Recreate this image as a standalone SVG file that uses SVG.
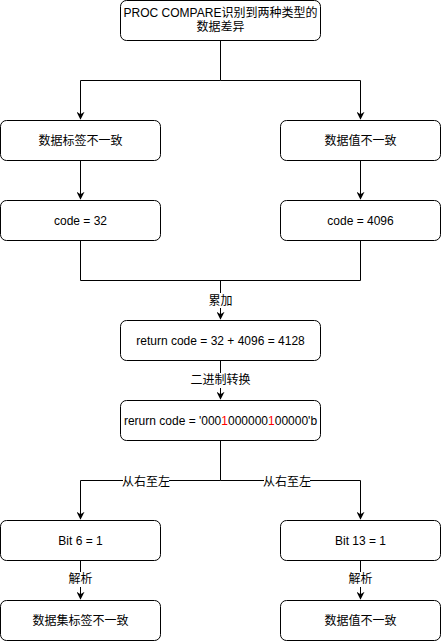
<svg xmlns="http://www.w3.org/2000/svg" width="441" height="641" viewBox="0 0 441 641">
<style>
.n{fill:#fff;stroke:#000;stroke-width:1}
.t{font-family:"Liberation Sans","Noto Sans CJK SC",sans-serif;font-size:12px;fill:#000;text-anchor:middle}
.c{fill:none;stroke:#000;stroke-width:1}
.lb{fill:#fff}
.r{fill:#ff0000}
</style>
<defs>
<marker id="a" viewBox="0 0 10 10" refX="9" refY="5" markerWidth="8" markerHeight="8" orient="auto" markerUnits="userSpaceOnUse"><path d="M0,0 L10,5 L0,10 L3,5 Z" fill="#000"/></marker>
</defs>
<g id="connectors">
<path class="c" d="M220.5,40 V80.5 H80.5 V119" marker-end="url(#a)"/>
<path class="c" d="M220.5,80.5 H360.5 V119" marker-end="url(#a)"/>
<path class="c" d="M80.5,160 V199" marker-end="url(#a)"/>
<path class="c" d="M360.5,160 V199" marker-end="url(#a)"/>
<path class="c" d="M80.5,240 V280.5 H360.5 V240"/>
<path class="c" d="M220.5,280.5 V319" marker-end="url(#a)"/>
<path class="c" d="M220.5,360 V399" marker-end="url(#a)"/>
<path class="c" d="M220.5,440 V480.5 H80.5 V519" marker-end="url(#a)"/>
<path class="c" d="M220.5,480.5 H360.5 V519" marker-end="url(#a)"/>
<path class="c" d="M80.5,560 V599" marker-end="url(#a)"/>
<path class="c" d="M360.5,560 V599" marker-end="url(#a)"/>
<rect class="lb" x="207" y="293" width="27" height="15"/>
<text class="t" x="220.5" y="305">累加</text>
<rect class="lb" x="194" y="373" width="53" height="15"/>
<text class="t" x="220.5" y="384">二进制转换</text>
<rect class="lb" x="123" y="475" width="46" height="14"/>
<text class="t" x="146" y="486">从右至左</text>
<rect class="lb" x="264" y="475" width="46" height="14"/>
<text class="t" x="287" y="486">从右至左</text>
<rect class="lb" x="67" y="572" width="27" height="15"/>
<text class="t" x="80.5" y="583">解析</text>
<rect class="lb" x="347" y="572" width="27" height="15"/>
<text class="t" x="360.5" y="583">解析</text>
</g>
<g id="top"><rect class="n" x="120.5" y="0.5" width="200" height="40" rx="6"/><text class="t" x="220.5" y="17">PROC COMPARE识别到两种类型的</text><text class="t" x="220.5" y="31">数据差异</text></g>
<g id="n1"><rect class="n" x="0.5" y="120.5" width="160" height="40" rx="6"/><text class="t" x="80.5" y="145">数据标签不一致</text></g>
<g id="n2"><rect class="n" x="280.5" y="120.5" width="160" height="40" rx="6"/><text class="t" x="360.5" y="145">数据值不一致</text></g>
<g id="n3"><rect class="n" x="0.5" y="200.5" width="160" height="40" rx="6"/><text class="t" x="80.5" y="225">code = 32</text></g>
<g id="n4"><rect class="n" x="280.5" y="200.5" width="160" height="40" rx="6"/><text class="t" x="360.5" y="225">code = 4096</text></g>
<g id="n5"><rect class="n" x="120.5" y="320.5" width="200" height="40" rx="6"/><text class="t" x="220.5" y="345">return code = 32 + 4096 = 4128</text></g>
<g id="n6"><rect class="n" x="120.5" y="400.5" width="200" height="40" rx="6"/><text class="t" x="220.5" y="425">rerurn code = '000<tspan class="r">1</tspan>000000<tspan class="r">1</tspan>00000'b</text></g>
<g id="n7"><rect class="n" x="0.5" y="520.5" width="160" height="40" rx="6"/><text class="t" x="80.5" y="545">Bit 6 = 1</text></g>
<g id="n8"><rect class="n" x="280.5" y="520.5" width="160" height="40" rx="6"/><text class="t" x="360.5" y="545">Bit 13 = 1</text></g>
<g id="n9"><rect class="n" x="0.5" y="600.5" width="160" height="40" rx="6"/><text class="t" x="80.5" y="625">数据集标签不一致</text></g>
<g id="n10"><rect class="n" x="280.5" y="600.5" width="160" height="40" rx="6"/><text class="t" x="360.5" y="625">数据值不一致</text></g>
</svg>
